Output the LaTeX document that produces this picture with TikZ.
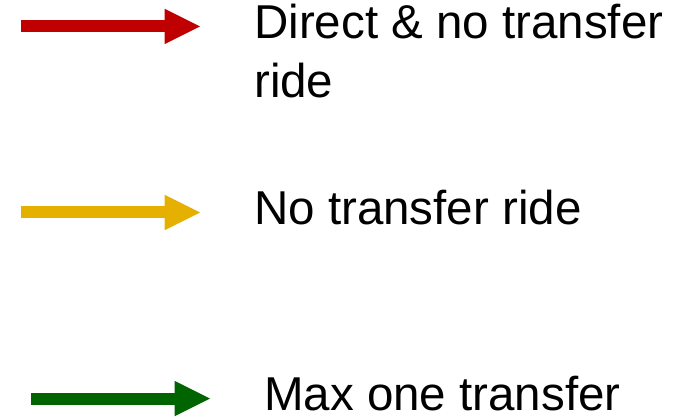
\documentclass[tikz,border=0pt]{standalone}
\usepackage{fontspec}
\setmainfont{Liberation Sans}
\usetikzlibrary{arrows.meta}
\definecolor{cred}{RGB}{192,0,0}
\definecolor{cyel}{RGB}{230,176,0}
\definecolor{cgreen}{RGB}{0,100,0}
\tikzset{
  legarrow/.style={line width=12pt, line cap=butt,
    -{Triangle[length=35.5pt,width=35.5pt,line width=0pt]}},
  legtext/.style={anchor=base west, inner sep=0pt, font=\fontsize{47.5}{59}\selectfont, align=left}
}
\begin{document}
\begin{tikzpicture}[x=1pt,y=-1pt]
\useasboundingbox (0,0) rectangle (692,419);
\coordinate (r1) at (20.7,26.5);
\coordinate (r2) at (200,26.5);
\coordinate (y1) at (20.7,212.5);
\coordinate (y2) at (200,212.5);
\coordinate (g1) at (31,398.5);
\coordinate (g2) at (210,398.5);
\draw[legarrow, cred] (r1) -- (r2);
\draw[legarrow, cyel] (y1) -- (y2);
\draw[legarrow, cgreen] (g1) -- (g2);
\node[legtext] (t1) at (254,98) {Direct \& no transfer\\ride};
\node[legtext] (t2) at (254,225) {No transfer ride};
\node[legtext] (t3) at (264,410) {Max one transfer};
\end{tikzpicture}
\end{document}
